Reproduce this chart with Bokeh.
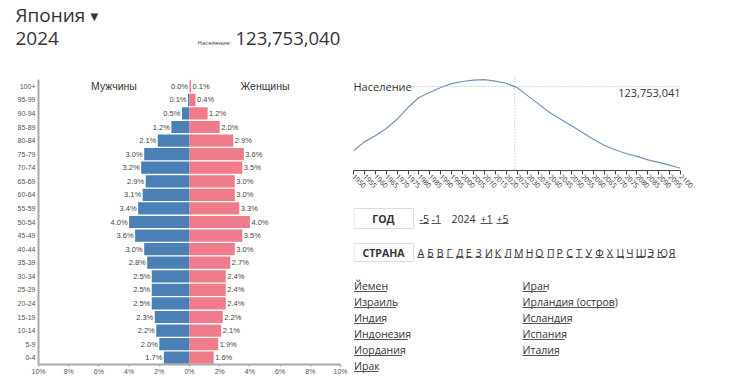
import math
from bokeh.plotting import figure
from bokeh.layouts import column, row
from bokeh.models import Range1d, FactorRange, Span, FixedTicker, ColumnDataSource, Label
from bokeh.core.properties import value
from bokeh.embed import file_html
from bokeh.resources import INLINE

# ---------------- data ----------------
COUNTRY = "Япония"
YEAR = 2024
HEADER_POPULATION = 123753040
CHART_POPULATION = 123753041

age_groups = ["100+", "95-99", "90-94", "85-89", "80-84", "75-79", "70-74", "65-69",
              "60-64", "55-59", "50-54", "45-49", "40-44", "35-39", "30-34", "25-29",
              "20-24", "15-19", "10-14", "5-9", "0-4"]
male_pct = [0.0, 0.1, 0.5, 1.2, 2.1, 3.0, 3.2, 2.9, 3.1, 3.4, 4.0, 3.6, 3.0, 2.8,
            2.5, 2.5, 2.5, 2.3, 2.2, 2.0, 1.7]
female_pct = [0.1, 0.4, 1.2, 2.0, 2.9, 3.6, 3.5, 3.0, 3.0, 3.3, 4.0, 3.5, 3.0, 2.7,
              2.4, 2.4, 2.4, 2.2, 2.1, 1.9, 1.6]
pct_ticks = [-10, -8, -6, -4, -2, 0, 2, 4, 6, 8, 10]

pop_years = [1950, 1955, 1960, 1965, 1970, 1975, 1980, 1985, 1990, 1995, 2000, 2005,
             2010, 2015, 2020, 2024, 2025, 2030, 2035, 2040, 2045, 2050, 2055, 2060,
             2065, 2070, 2075, 2080, 2085, 2090, 2095, 2100]
pop_millions = [84.1, 89.6, 93.4, 97.9, 103.6, 110.8, 117.0, 120.1, 123.2, 125.6, 126.9,
                127.7, 128.1, 127.1, 125.8, 123.75, 123.2, 118.0, 112.9, 107.7, 103.6,
                99.5, 95.4, 91.2, 87.5, 84.7, 82.4, 80.6, 78.5, 76.9, 75.2, 73.3]
year_ticks = list(range(1950, 2101, 5))

year_links = ["-5", "-1", str(YEAR), "+1", "+5"]
letters = ["А", "Б", "В", "Г", "Д", "Е", "З", "И", "К", "Л", "М", "Н", "О", "П", "Р",
           "С", "Т", "У", "Ф", "Х", "Ц", "Ч", "Ш", "Э", "Ю", "Я"]
countries_col1 = ["Йемен", "Израиль", "Индия", "Индонезия", "Иордания", "Ирак"]
countries_col2 = ["Иран", "Ирландия (остров)", "Исландия", "Испания", "Италия"]

MALE = "#4a80b6"
FEMALE = "#f07b8b"
DARK = "#333333"
UI_FONT = "Open Sans"
PY_FONT = "Liberation Sans"

# rough glyph widths (em) for underline lengths
_W = {" ": 0.26, "-": 0.32, "+": 0.57, "(": 0.3, ")": 0.3, ",": 0.26}
_WIDE = set("МШЩЮЖФОмшщюжфы")
def text_w(s, size):
    w = 0.0
    for c in s:
        if c in _W:
            w += _W[c]
        elif c.isdigit():
            w += 0.572
        elif c in _WIDE:
            w += 0.82
        elif c.isupper():
            w += 0.64
        else:
            w += 0.56
    return w * size

def base_fig(w, h, xr, yr, left=0, right=0):
    f = figure(width=w, height=h, x_range=xr, y_range=yr, output_backend="svg",
               toolbar_location=None, x_axis_location=None, y_axis_location=None,
               min_border=0, min_border_left=left, min_border_right=right)
    f.outline_line_color = None
    f.grid.visible = False
    return f

# ---------------- header (page coordinates, y down) ----------------
hdr = base_fig(714, 70, Range1d(0, 714), Range1d(70, 0))
hdr.text(x=[7], y=[14.3], text=[COUNTRY], text_font=value(UI_FONT), text_font_size="19px",
         text_color=DARK, text_baseline="middle")
hdr.text(x=[82], y=[16], text=["▼"], text_font=value("DejaVu Sans"), text_font_size="10px",
         text_color=DARK, text_baseline="middle")
hdr.text(x=[7], y=[37.5], text=[str(YEAR)], text_font=value(UI_FONT), text_font_size="19px",
         text_color=DARK, text_baseline="middle")
hdr.text(x=[189], y=[42.5], text=["Население:"], text_font=value(UI_FONT), text_font_size="6px",
         text_color=DARK, text_baseline="middle")
hdr.text(x=[227], y=[37.5], text=[f"{HEADER_POPULATION:,}"], text_font=value(UI_FONT),
         text_font_size="18.5px", text_color=DARK, text_baseline="middle")

# ---------------- pyramid ----------------
pyr = figure(width=340, height=307, x_range=Range1d(pct_ticks[0], pct_ticks[-1]),
             y_range=FactorRange(factors=age_groups[::-1], range_padding=0),
             output_backend="svg", toolbar_location=None,
             min_border_left=30, min_border_right=8, min_border_top=9, min_border_bottom=13)
pyr.outline_line_color = None
pyr.grid.visible = False
src = ColumnDataSource(dict(
    age=age_groups,
    m_left=[-v for v in male_pct],
    f_right=female_pct,
    m_lab=[f"{v:.1f}%" for v in male_pct],
    f_lab=[f"{v:.1f}%" for v in female_pct],
))
pyr.hbar(y="age", left="m_left", right=0, height=0.9, fill_color=MALE, line_color=None, source=src)
pyr.hbar(y="age", left=0, right="f_right", height=0.9, fill_color=FEMALE, line_color=None, source=src)
pyr.text(x="m_left", y="age", text="m_lab", source=src, text_align="right", text_baseline="middle",
         x_offset=-1.5, text_font=value(PY_FONT), text_font_size="7.5px", text_color="#444")
pyr.text(x="f_right", y="age", text="f_lab", source=src, text_align="left", text_baseline="middle",
         x_offset=1.5, text_font=value(PY_FONT), text_font_size="7.5px", text_color="#444")
pyr.text(x=[-5, 5], y=[age_groups[0], age_groups[0]], text=["Мужчины", "Женщины"],
         text_align="center", text_baseline="middle", text_font=value(PY_FONT),
         text_font_size="10.5px", text_color=DARK)
pyr.xaxis.ticker = FixedTicker(ticks=pct_ticks)
pyr.xaxis.major_label_overrides = {t: f"{abs(t)}%" for t in pct_ticks}
pyr.xaxis.minor_tick_line_color = None
pyr.xaxis.axis_line_color = "#aaaaaa"
pyr.xaxis.axis_line_width = 2
pyr.xaxis.major_tick_line_color = "#aaaaaa"
pyr.xaxis.major_tick_line_width = 1.5
pyr.xaxis.major_tick_in = 0
pyr.xaxis.major_tick_out = 2
pyr.xaxis.major_label_standoff = 1
pyr.xaxis.major_label_text_font = PY_FONT
pyr.xaxis.major_label_text_font_size = "7px"
pyr.xaxis.major_label_text_color = "#555"
pyr.yaxis.axis_line_color = "#aaaaaa"
pyr.yaxis.axis_line_width = 2
pyr.yaxis.major_tick_line_color = None
pyr.yaxis.major_tick_out = 0
pyr.yaxis.major_tick_in = 0
pyr.yaxis.major_label_standoff = 3
pyr.yaxis.major_label_text_font = PY_FONT
pyr.yaxis.major_label_text_font_size = "7px"
pyr.yaxis.major_label_text_color = "#555"

# ---------------- population line ----------------
pop_now = CHART_POPULATION / 1e6
ln = figure(width=374, height=130, x_range=Range1d(pop_years[0], pop_years[-1]),
            y_range=Range1d(71.9, 130.6), output_backend="svg", toolbar_location=None,
            y_axis_location=None, min_border_left=5, min_border_right=42,
            min_border_top=5, min_border_bottom=30)
ln.outline_line_color = None
ln.grid.visible = False
ln.add_layout(Span(location=pop_now, dimension="width", line_color="#aaaaaa",
                   line_dash="1 2", line_width=1))
ln.add_layout(Span(location=YEAR, dimension="height", line_color="#aaaaaa",
                   line_dash="1 2", line_width=1))
ln.line(pop_years, pop_millions, line_color="#7094bb", line_width=1.2)
ln.add_layout(Label(x=pop_years[0], y=pop_now, text="Население", text_baseline="middle",
                    text_font=UI_FONT, text_font_size="11px", text_color=DARK,
                    background_fill_color="white"))
ln.text(x=[pop_years[-1]], y=[pop_now], text=[f"{CHART_POPULATION:,}"], text_align="right",
        text_baseline="middle", y_offset=6, text_font=value(UI_FONT), text_font_size="11px",
        text_color=DARK)
ln.xaxis.ticker = FixedTicker(ticks=year_ticks)
ln.xaxis.minor_tick_line_color = None
ln.xaxis.axis_line_color = "#444"
ln.xaxis.major_tick_line_color = "#444"
ln.xaxis.major_tick_in = 0
ln.xaxis.major_tick_out = 4
ln.xaxis.major_label_standoff = 1
ln.xaxis.major_label_orientation = -math.pi / 4
ln.xaxis.major_label_text_font = UI_FONT
ln.xaxis.major_label_text_font_size = "7px"
ln.xaxis.major_label_text_color = DARK

# ---------------- controls ----------------
# borders match the line chart above so that the frames align 1:1 in pixels
ctl = base_fig(374, 177, Range1d(5, 332), Range1d(177, 0), left=5, right=42)
ctl.quad(left=[5.5, 5.5], right=[65, 65], top=[8, 43], bottom=[28, 61], fill_color="white",
         line_color="#dddddd", line_width=1)
ctl.text(x=[35, 35], y=[18, 52], text=["ГОД", "СТРАНА"], text_align="center",
         text_baseline="middle", text_font=value(UI_FONT), text_font_style="bold",
         text_font_size="10.5px", text_color=DARK)

nav_x = [71, 83, 103, 132, 148]
ctl.text(x=nav_x, y=[18] * len(year_links), text=year_links, text_baseline="middle",
         text_font=value(UI_FONT), text_font_size="10.5px", text_color=DARK)
u_idx = [i for i, s in enumerate(year_links) if s != str(YEAR)]
ctl.segment(x0=[nav_x[i] for i in u_idx],
            x1=[nav_x[i] + text_w(year_links[i], 10.5) for i in u_idx],
            y0=[23] * len(u_idx), y1=[23] * len(u_idx), line_color="#555", line_width=1)

# alphabet
raw = []
pos = 0.0
for c in letters:
    raw.append(pos)
    pos += text_w(c, 11) + text_w(" ", 11)
span_px = raw[-1] + text_w(letters[-1], 11)
scale = (327 - 69) / span_px
lx = [69 + r * scale for r in raw]
lw = [text_w(c, 11) * scale for c in letters]
ctl.text(x=lx, y=[52] * len(letters), text=letters, text_baseline="middle",
         text_font=value(UI_FONT), text_font_size="10.5px", text_color=DARK)
ctl.segment(x0=lx, x1=[a + b for a, b in zip(lx, lw)], y0=[57] * len(letters),
            y1=[57] * len(letters), line_color="#555", line_width=1)

# country lists
for col_x, names in ((5.5, countries_col1), (174, countries_col2)):
    ys = [85 + 16 * i for i in range(len(names))]
    ctl.text(x=[col_x] * len(names), y=ys, text=names, text_baseline="middle",
             text_font=value(UI_FONT), text_font_size="10.5px", text_color=DARK)
    ctl.segment(x0=[col_x] * len(names), x1=[col_x + text_w(n, 10.5) for n in names],
                y0=[y + 6 for y in ys], y1=[y + 6 for y in ys], line_color="#555", line_width=1)

layout = column(hdr, row(pyr, column(ln, ctl)), margin=(0, 0, 0, 8))

open("out.html", "w").write(file_html(layout, INLINE))
